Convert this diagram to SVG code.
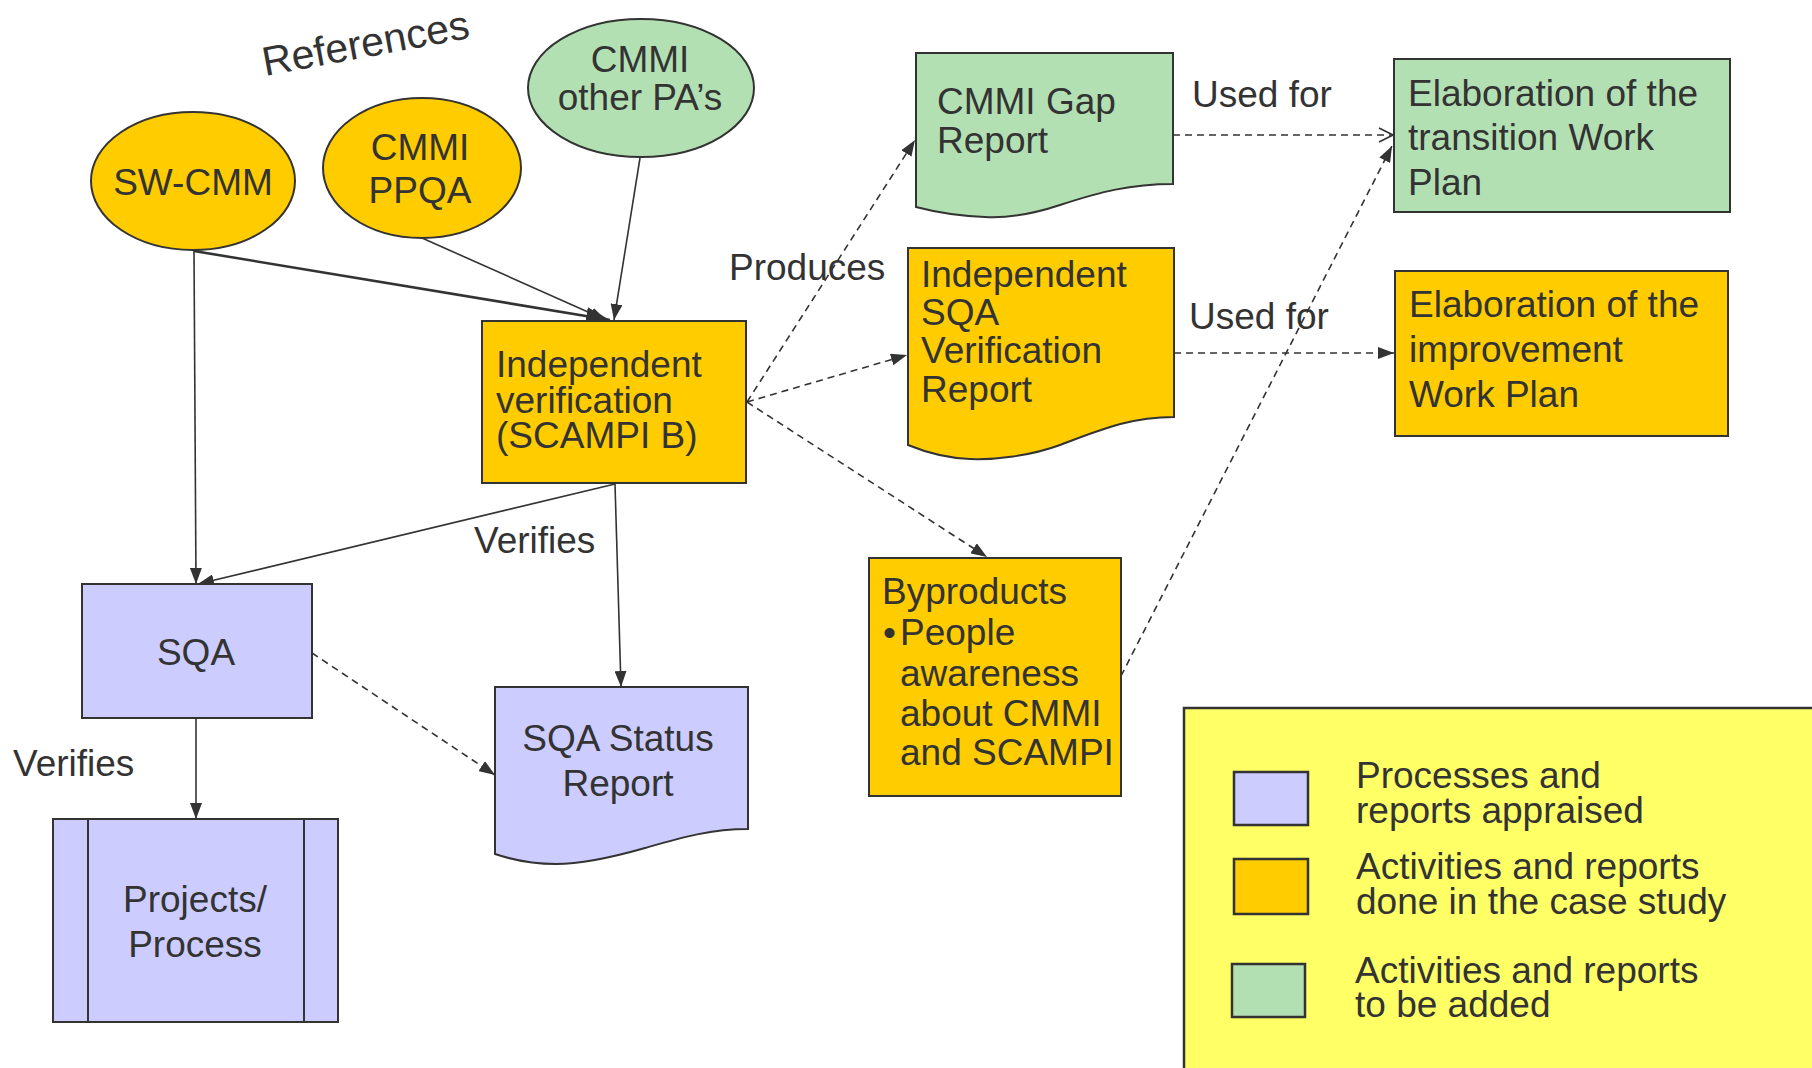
<svg xmlns="http://www.w3.org/2000/svg" width="1812" height="1068" viewBox="0 0 1812 1068">
<defs>
<style>
text{font-family:"Liberation Sans",Arial,sans-serif;font-size:37px;fill:#333333}
.n{stroke:#333333;stroke-width:2}
.gold{fill:#FFCC00}
.green{fill:#B3E0B3}
.purple{fill:#CCCCFF}
.c{fill:none;stroke:#333333;stroke-width:1.6}
.d{fill:none;stroke:#333333;stroke-width:1.6;stroke-dasharray:7 5}
.m{text-anchor:middle}
.lg{stroke:#333333;stroke-width:2.5}
</style>
<marker id="a" viewBox="0 0 16 12" refX="16" refY="6" markerWidth="16" markerHeight="12" markerUnits="userSpaceOnUse" orient="auto"><path d="M0,0 L16,6 L0,12 Z" fill="#333333"/></marker>
<marker id="ab" viewBox="0 0 24 18" refX="24" refY="9" markerWidth="24" markerHeight="18" markerUnits="userSpaceOnUse" orient="auto"><path d="M0,0 L24,9 L0,18 Z" fill="#333333"/></marker>
<marker id="ao" viewBox="0 0 16 16" refX="15" refY="8" markerWidth="16" markerHeight="16" markerUnits="userSpaceOnUse" orient="auto"><path d="M1,1 L15,8 L1,15" fill="none" stroke="#333333" stroke-width="1.6"/></marker>
</defs>

<text x="265" y="76" style="font-size:41px" transform="rotate(-10.5 265 76)">References</text>

<g id="connectors">
<line class="c" x1="194" y1="251" x2="610" y2="320" style="stroke-width:2.6" marker-end="url(#ab)"/>
<line class="c" x1="422" y1="238" x2="606" y2="320" marker-end="url(#a)"/>
<line class="c" x1="640" y1="158" x2="614" y2="320" marker-end="url(#a)"/>
<line class="c" x1="194" y1="251" x2="196" y2="584" marker-end="url(#a)"/>
<line class="c" x1="615" y1="484" x2="198" y2="584" marker-end="url(#a)"/>
<line class="c" x1="615" y1="484" x2="621" y2="687" marker-end="url(#a)"/>
<line class="c" x1="196" y1="718" x2="196" y2="819" marker-end="url(#a)"/>
<line class="d" x1="312" y1="653" x2="495" y2="775" marker-end="url(#a)"/>
<line class="d" x1="747" y1="402" x2="915" y2="140" marker-end="url(#a)"/>
<line class="d" x1="747" y1="402" x2="907" y2="355" marker-end="url(#a)"/>
<line class="d" x1="747" y1="402" x2="987" y2="557" marker-end="url(#a)"/>
<line class="d" x1="1173" y1="135" x2="1393" y2="135" marker-end="url(#ao)"/>
<line class="d" x1="1174" y1="353" x2="1394" y2="353" marker-end="url(#a)"/>
<line class="d" x1="1121" y1="676" x2="1392" y2="146" marker-end="url(#a)"/>
<text x="474" y="553">Verifies</text>
<text x="13" y="776">Verifies</text>
<text x="729" y="280">Produces</text>
<text x="1192" y="107">Used for</text>
<text x="1189" y="329">Used for</text>
</g>

<g id="sw-cmm">
<ellipse class="n gold" cx="193" cy="181" rx="102" ry="69"/>
<text class="m" x="193" y="195">SW-CMM</text>
</g>
<g id="cmmi-ppqa">
<ellipse class="n gold" cx="422" cy="168" rx="99" ry="70"/>
<text class="m" x="420" y="160">CMMI</text>
<text class="m" x="420" y="203">PPQA</text>
</g>
<g id="cmmi-other">
<ellipse class="n green" cx="641" cy="88" rx="113" ry="69"/>
<text class="m" x="640" y="72">CMMI</text>
<text class="m" x="640" y="110">other PA’s</text>
</g>

<g id="indep-verif">
<rect class="n gold" x="482" y="321" width="264" height="162"/>
<text x="496" y="377">Independent</text>
<text x="496" y="413">verification</text>
<text x="496" y="448">(SCAMPI B)</text>
</g>

<g id="gap-report">
<path class="n green" d="M916,53 H1173 V184 C1130,184 1100,192 1060,205 C1030,215 1005,218 985,217 C960,216 935,212 916,207 Z"/>
<text x="937" y="114">CMMI Gap</text>
<text x="937" y="153">Report</text>
</g>

<g id="transition-plan">
<rect class="n green" x="1394" y="59" width="336" height="153"/>
<text x="1408" y="106">Elaboration of the</text>
<text x="1408" y="150">transition Work</text>
<text x="1408" y="195">Plan</text>
</g>

<g id="sqa-verif-report">
<path class="n gold" d="M908,248 H1174 V417 C1130,417 1100,430 1060,445 C1030,456 995,460 970,459 C945,458 925,452 908,445 Z"/>
<text x="921" y="287">Independent</text>
<text x="921" y="325">SQA</text>
<text x="921" y="363">Verification</text>
<text x="921" y="402">Report</text>
</g>

<g id="improvement-plan">
<rect class="n gold" x="1395" y="271" width="333" height="165"/>
<text x="1409" y="317">Elaboration of the</text>
<text x="1409" y="362">improvement</text>
<text x="1409" y="407">Work Plan</text>
</g>

<g id="byproducts">
<rect class="n gold" x="869" y="558" width="252" height="238"/>
<text x="882" y="604">Byproducts</text>
<text x="883" y="645">•</text>
<text x="900" y="645">People</text>
<text x="900" y="686">awareness</text>
<text x="900" y="726">about CMMI</text>
<text x="900" y="765">and SCAMPI</text>
</g>

<g id="sqa">
<rect class="n purple" x="82" y="584" width="230" height="134"/>
<text class="m" x="196" y="665">SQA</text>
</g>

<g id="sqa-status">
<path class="n purple" d="M495,687 H748 V829 C710,829 680,838 645,848 C610,858 580,864 556,864 C530,864 510,859 495,854 Z"/>
<text class="m" x="618" y="751">SQA Status</text>
<text class="m" x="618" y="796">Report</text>
</g>

<g id="projects">
<rect class="n purple" x="53" y="819" width="285" height="203"/>
<line class="n" x1="88" y1="819" x2="88" y2="1022"/>
<line class="n" x1="304" y1="819" x2="304" y2="1022"/>
<text class="m" x="195" y="912">Projects/</text>
<text class="m" x="195" y="957">Process</text>
</g>

<g id="legend">
<rect class="lg" x="1184" y="708" width="650" height="420" fill="#FFFF66"/>
<rect class="lg purple" x="1234" y="772" width="74" height="53"/>
<rect class="lg gold" x="1234" y="859" width="74" height="55"/>
<rect class="lg green" x="1232" y="964" width="73" height="53"/>
<text x="1356" y="788">Processes and</text>
<text x="1356" y="823">reports appraised</text>
<text x="1356" y="879">Activities and reports</text>
<text x="1356" y="914">done in the case study</text>
<text x="1355" y="983">Activities and reports</text>
<text x="1355" y="1017">to be added</text>
</g>
</svg>
